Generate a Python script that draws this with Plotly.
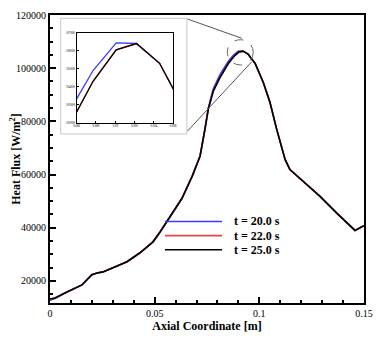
import plotly.graph_objects as go

# Heat flux along the axial coordinate at three time instants
axial_m = [0.000, 0.0024, 0.0081, 0.0153, 0.020, 0.0225, 0.0253, 0.030, 0.0368,
           0.043, 0.0492, 0.0525, 0.0573, 0.063, 0.068, 0.0717, 0.074, 0.0756,
           0.078, 0.0812, 0.0852, 0.0877, 0.0901, 0.0922, 0.0946, 0.0959, 0.098,
           0.1019, 0.1051, 0.1083, 0.1123, 0.1146, 0.121, 0.129, 0.137, 0.1457, 0.150]

flux_t25 = [13200, 13600, 15850, 18500, 22300, 23000, 23400, 24900, 27200,
            30600, 34700, 38300, 44000, 51000, 59500, 67000, 77000, 84500,
            91400, 96500, 101800, 104300, 106050, 106400, 105300, 104000, 101800,
            94600, 87100, 77000, 65700, 61900, 57500, 51800, 45500, 39000, 40800]
flux_t22 = list(flux_t25)
flux_t20 = [12700, 13400, 15850, 18500, 22300, 23000, 23400, 24900, 27200,
            30600, 34700, 38300, 44000, 51000, 59500, 67000, 77000, 85000,
            92300, 97600, 102600, 104900, 106440, 106400, 105300, 104000, 101800,
            94600, 87100, 77000, 65700, 61900, 57500, 51800, 45500, 39000, 40800]

series_names = ["t = 20.0 s", "t = 22.0 s", "t = 25.0 s"]
series_colors = ["#3b3bff", "#e8474a", "#000000"]
series_values = [flux_t20, flux_t22, flux_t25]

# zoomed region shown in the inset
inset_x = [0.086, 0.096]
inset_y = [102000, 107000]

SERIF = "Liberation Serif, Times New Roman, serif"

fig = go.Figure()

for name, color, vals in zip(series_names, series_colors, series_values):
    fig.add_trace(go.Scatter(x=axial_m, y=vals, mode="lines", name=name,
                             line=dict(color=color, width=1.6),
                             showlegend=False, xaxis="x", yaxis="y"))
for name, color, vals in zip(series_names, series_colors, series_values):
    fig.add_trace(go.Scatter(x=axial_m, y=vals, mode="lines", name=name,
                             line=dict(color=color, width=1.3),
                             showlegend=False, xaxis="x2", yaxis="y2"))

axis_common = dict(showline=True, linecolor="black", mirror=True,
                   ticks="inside", tickcolor="black", showgrid=False,
                   zeroline=False, automargin=False)

# the page body adds an 8px offset, so the figure is a bit smaller than the window
fig.update_layout(
    width=373, height=331,
    margin=dict(l=42, r=17, t=7, b=36),
    paper_bgcolor="white", plot_bgcolor="white",
    font=dict(family=SERIF, color="black", size=10),
    xaxis=dict(axis_common, range=[0, 0.15], dtick=0.05, tick0=0,
               linewidth=2, ticklen=6, tickwidth=1.5,
               minor=dict(dtick=0.01, ticks="inside", ticklen=3, tickcolor="black"),
               tickfont=dict(size=10),
               title=dict(text="<b>Axial Coordinate [m]</b>", font=dict(size=12),
                          standoff=4)),
    yaxis=dict(axis_common, range=[11700, 120000], dtick=20000, tick0=0,
               tickformat="d", linewidth=2, ticklen=6, tickwidth=1.5,
               minor=dict(dtick=5000, ticks="inside", ticklen=3, tickcolor="black"),
               tickfont=dict(size=10),
               title=dict(text="<b>Heat Flux [W/m<sup>2</sup>]</b>", font=dict(size=12),
                          standoff=2)),
    xaxis2=dict(axis_common, domain=[0.085, 0.392], anchor="y2", range=inset_x,
                dtick=0.002, tick0=0.086, linewidth=1, ticklen=2,
                tickfont=dict(size=3)),
    yaxis2=dict(axis_common, domain=[0.626, 0.9385], anchor="x2", range=inset_y,
                dtick=1000, tickformat="d", linewidth=1, ticklen=2,
                tickfont=dict(size=3)),
)

# inset frame
fig.add_shape(type="rect", xref="paper", yref="paper",
              x0=0.034, x1=0.436, y0=0.587, y1=0.9885,
              line=dict(color="#c8c8c8", width=1), fillcolor="white", layer="below")

# dashed circle around the zoomed region on the main plot
fig.add_shape(type="circle", xref="x", yref="y",
              x0=inset_x[0] - 0.0013, x1=inset_x[1] + 0.0011,
              y0=inset_y[0] - 780, y1=inset_y[1] + 3700,
              line=dict(color="#666666", width=1, dash="dash"))

# connector lines from inset to circle
fig.add_shape(type="line", xref="paper", yref="paper",
              x0=0.438, y0=0.986, x1=0.611, y1=0.919,
              line=dict(color="#555555", width=1))
fig.add_shape(type="line", xref="paper", yref="paper",
              x0=0.438, y0=0.597, x1=0.642, y1=0.837,
              line=dict(color="#555555", width=1))

# legend drawn in the plot like the original
legend_y = [0.283, 0.234, 0.185]
for name, color, ly in zip(series_names, series_colors, legend_y):
    fig.add_shape(type="line", xref="paper", yref="paper",
                  x0=0.366, x1=0.548, y0=ly, y1=ly,
                  line=dict(color=color, width=1.6))
    fig.add_annotation(xref="paper", yref="paper", x=0.58, y=ly,
                       xanchor="left", yanchor="middle", showarrow=False,
                       text="<b>" + name + "</b>", font=dict(size=12))

fig.write_html("out.html")
